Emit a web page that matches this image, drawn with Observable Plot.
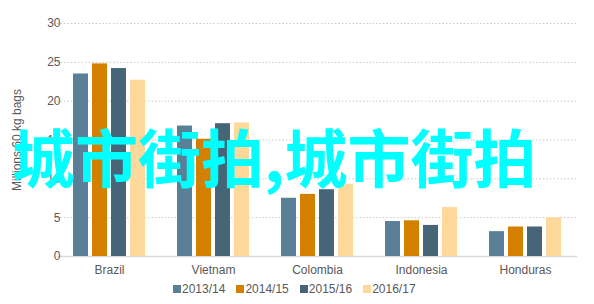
<!DOCTYPE html>
<html>
<head>
<meta charset="utf-8">
<script src="https://cdn.jsdelivr.net/npm/d3@7"></script>
<script src="https://cdn.jsdelivr.net/npm/@observablehq/plot@0.6"></script>
<style>
  body { margin: 0; background: #fff; font-family: "Liberation Sans", Arial, sans-serif; }
  #wrap { position: relative; width: 594px; height: 304px; overflow: hidden; }
  #legend { position: absolute; left: 173px; top: 282px; display: flex; font-size: 12px; line-height: 14px; color: #595959; white-space: nowrap; }
  #legend .item { display: flex; align-items: center; margin-right: 11px; }
  #legend .sw { width: 8px; height: 8px; margin-right: 1px; }
  #stamp { position: absolute; left: 12px; top: 123px; font-family: "Noto Sans CJK SC", sans-serif; font-weight: 700; font-size: 63px; line-height: 63px; color: #00ffff; white-space: nowrap; pointer-events: none; }
</style>
</head>
<body>
<div id="wrap">
  <div id="chart"></div>
  <div id="legend"></div>
  <div id="stamp">城市街拍,城市街拍</div>
</div>
<script>
// Producing countries and crop seasons
const countries = ["Brazil", "Vietnam", "Colombia", "Indonesia", "Honduras"];
const seasons = ["2013/14", "2014/15", "2015/16", "2016/17"];

// Millions of 60 kg bags, one value per country, per season
const s2013_14 = [23.5, 16.8, 7.5, 4.5, 3.2];
const s2014_15 = [24.8, 15.1, 8.0, 4.6, 3.8];
const s2015_16 = [24.2, 17.1, 8.6, 4.0, 3.8];
const s2016_17 = [22.7, 17.2, 9.3, 6.3, 5.0];

const yTicks = [0, 5, 10, 15, 20, 25, 30];
const seasonColors = ["#5a8098", "#d38000", "#466677", "#ffd89b"];

const seriesBySeason = [s2013_14, s2014_15, s2015_16, s2016_17];
const rows = seasons.flatMap((season, j) =>
  countries.map((country, i) => ({country, season, value: seriesBySeason[j][i]}))
);

// Layout of the country bands
const W = 594, mL = 56, mR = 17;
const fxPad = 0.27;
const fxStep = (W - mL - mR) / countries.length;
// each facet's horizontal rules reach halfway into the gap so they join up
const gapHalf = fxStep * fxPad / 2;

const chart = Plot.plot({
  width: W,
  height: 280,
  marginTop: 23,
  marginBottom: 24,
  marginLeft: mL,
  marginRight: mR,
  style: {fontFamily: "'Liberation Sans', Arial, sans-serif", fontSize: "12px", color: "#595959", background: "transparent"},
  fx: {domain: countries, paddingInner: fxPad, paddingOuter: fxPad / 2},
  x: {domain: seasons, paddingInner: 0.21, paddingOuter: 0.105, axis: null},
  y: {domain: [0, 30]},
  color: {domain: seasons, range: seasonColors},
  marks: [
    Plot.ruleY(yTicks.filter(d => d > 0), {stroke: "#c9c9c9", strokeDasharray: "1.5,2", insetLeft: -gapHalf, insetRight: -gapHalf}),
    Plot.ruleY([0], {stroke: "#d9d9d9", strokeWidth: 1.5, insetLeft: -gapHalf, insetRight: -gapHalf}),
    Plot.barY(rows, {fx: "country", x: "season", y: "value", fill: "season"}),
    Plot.axisY(yTicks, {tickSize: 0, tickPadding: 11, fontSize: 12, label: "Millions 60 kg bags", labelAnchor: "center", labelOffset: 59, labelArrow: "none"}),
    Plot.axisFx({anchor: "bottom", tickSize: 0, tickPadding: 9, fontSize: 12, label: null})
  ]
});
// axis title at the same size as the tick labels
d3.select(chart).selectAll('[aria-label="y-axis label"]').attr("font-size", 12)
  .selectAll("text").attr("font-size", 12);
document.getElementById("chart").appendChild(chart);

// Legend row under the chart
const legend = d3.select("#legend");
seasons.forEach((s, j) => {
  const item = legend.append("div").attr("class", "item");
  item.append("div").attr("class", "sw").style("background", seasonColors[j]);
  item.append("span").text(s);
});
</script>
</body>
</html>
